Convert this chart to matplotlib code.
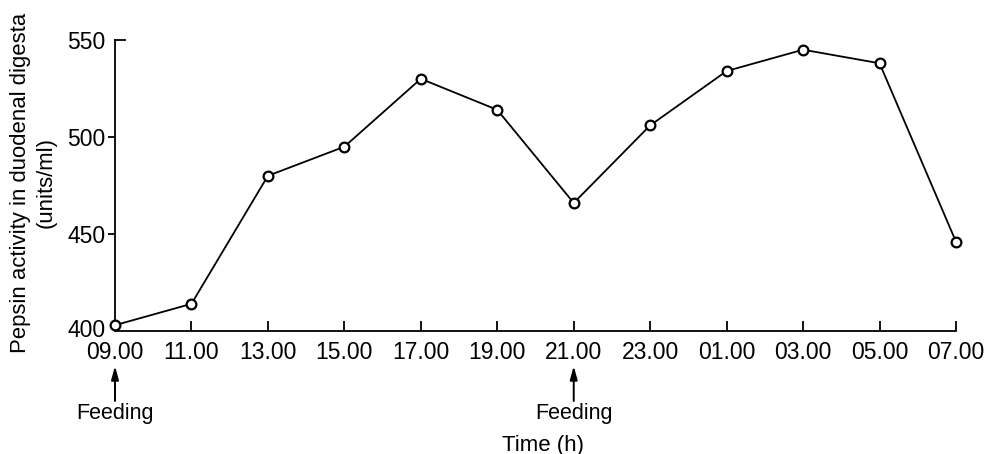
import matplotlib
matplotlib.use("Agg")
import matplotlib.pyplot as plt
import matplotlib.transforms as mtransforms

# Data
time_labels = ["09.00", "11.00", "13.00", "15.00", "17.00", "19.00",
               "21.00", "23.00", "01.00", "03.00", "05.00", "07.00"]
pepsin = [403, 414, 480, 495, 530, 514, 466, 506, 534, 545, 538, 446]
feeding_idx = [0, 6]
y_ticks = [400, 450, 500, 550]

plt.rcParams['font.family'] = ['Liberation Sans', 'DejaVu Sans']

fig = plt.figure(figsize=(9.85, 4.54), dpi=100)
W, H = 985, 454
ax_left, ax_right, ax_top, ax_bottom = 115, 956, 40, 331
ax = fig.add_axes([ax_left / W, 1 - ax_bottom / H,
                   (ax_right - ax_left) / W, (ax_bottom - ax_top) / H])

x = list(range(len(time_labels)))
ax.plot(x, pepsin, color='black', lw=1.3, marker='o', markersize=7,
        markerfacecolor='white', markeredgecolor='black', markeredgewidth=1.6,
        clip_on=False, zorder=3)

ax.set_xlim(0, len(time_labels) - 1)
ax.set_ylim(400, 550)
ax.spines['top'].set_visible(False)
ax.spines['right'].set_visible(False)
for s in ('left', 'bottom'):
    ax.spines[s].set_linewidth(1.3)

ax.set_xticks(x)
ax.set_xticklabels(time_labels, fontsize=16.5)
ax.set_yticks(y_ticks)
ax.set_yticklabels([str(v) for v in y_ticks], fontsize=16.5)
ax.tick_params(axis='x', direction='in', length=7, width=1.3, pad=7.5)
ax.tick_params(axis='y', direction='out', length=5, width=1.3, pad=2)

# small inward tick at top of y axis, no tick at the corner
ytl = ax.yaxis.get_major_ticks()
ytl[0].tick1line.set_visible(False)
ytl[-1].tick1line.set_visible(False)
ax.plot([0, 0.012], [1, 1], transform=ax.transAxes, color='black', lw=1.3,
        clip_on=False)

# nudge "400" label slightly up so it clears the first time label
lab400 = ax.get_yticklabels()[0]
lab400.set_transform(lab400.get_transform() +
                     mtransforms.ScaledTranslation(0, 3 / 100, fig.dpi_scale_trans))

# Feeding arrows
axh = ax_bottom - ax_top
tip = (ax_bottom - 366) / axh
tail = (ax_bottom - 401) / axh
txt = (ax_bottom - 413) / axh
for i in feeding_idx:
    ax.annotate("", xy=(x[i], tip), xycoords=('data', 'axes fraction'),
                xytext=(x[i], tail), textcoords=('data', 'axes fraction'),
                arrowprops=dict(arrowstyle='-|>,head_length=0.8,head_width=0.22',
                                color='black', lw=1.4, shrinkA=0, shrinkB=0))
    ax.text(x[i], txt, "Feeding", transform=ax.get_xaxis_transform(),
            ha='center', va='center', fontsize=15.5)

ax.text((543 - ax_left) / (ax_right - ax_left), (ax_bottom - 445) / axh,
        "Time (h)", transform=ax.transAxes, ha='center', va='center',
        fontsize=16)

fig.text(33 / W, 1 - 183 / H, "Pepsin activity in duodenal digesta\n(units/ml)",
         rotation=90, ha='center', va='center', fontsize=15.9,
         multialignment='center', linespacing=1.3)

fig.savefig("out.png", dpi=100)
